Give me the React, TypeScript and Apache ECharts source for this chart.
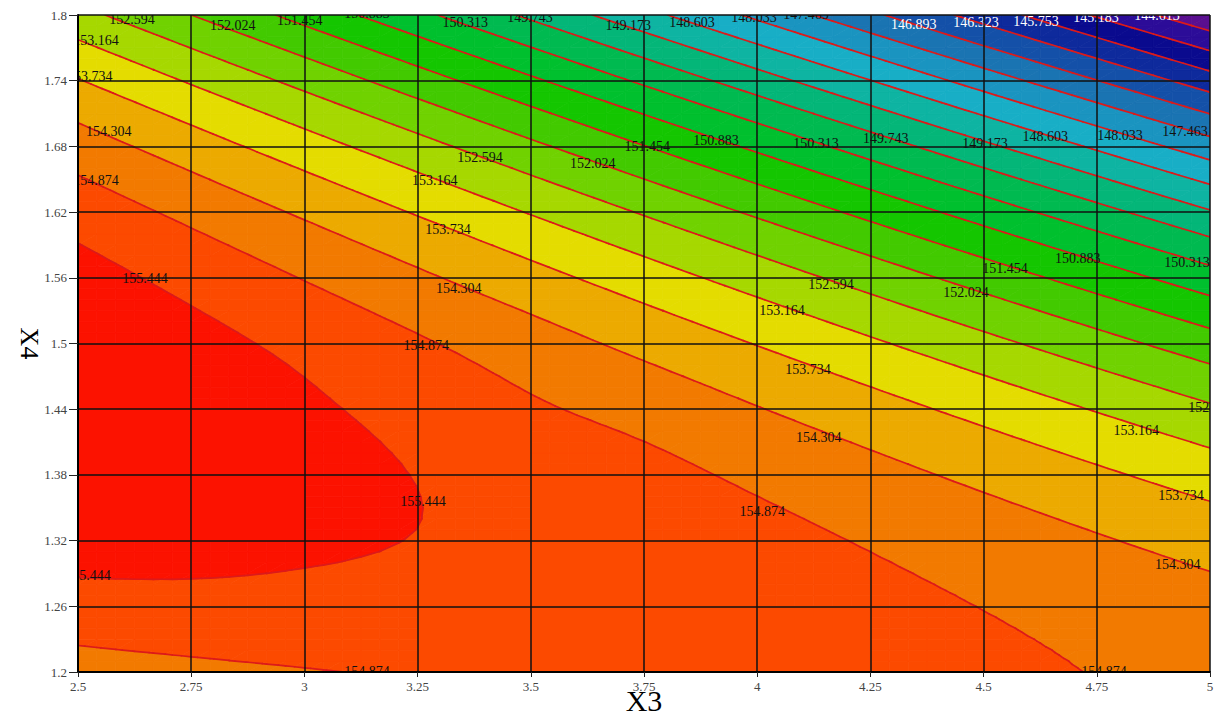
import { useEffect, useRef } from "react";
import * as echarts from "echarts";

// ---- axes ----
const x3Ticks = [2.5, 2.75, 3, 3.25, 3.5, 3.75, 4, 4.25, 4.5, 4.75, 5];
const x4Ticks = [1.2, 1.26, 1.32, 1.38, 1.44, 1.5, 1.56, 1.62, 1.68, 1.74, 1.8];

// ---- response values, one row per X4 tick (X3 = 2.5 ... 5) ----
const rowX4_120 = [154.600, 154.734, 154.843, 154.924, 154.980, 155.009, 155.013, 154.989, 154.940, 154.864, 154.763];
const rowX4_126 = [155.227, 155.273, 155.270, 155.250, 155.215, 155.197, 155.112, 155.001, 154.864, 154.700, 154.511];
const rowX4_132 = [155.674, 155.633, 155.535, 155.430, 155.311, 155.204, 155.032, 154.833, 154.608, 154.356, 154.079];
const rowX4_138 = [155.941, 155.812, 155.626, 155.430, 155.216, 155.032, 154.771, 154.485, 154.171, 153.832, 153.467];
const rowX4_144 = [156.028, 155.811, 155.537, 155.260, 154.952, 154.679, 154.331, 153.956, 153.555, 153.128, 152.675];
const rowX4_150 = [155.935, 155.630, 155.299, 154.941, 154.557, 154.147, 153.711, 153.248, 152.759, 152.244, 151.703];
const rowX4_156 = [155.662, 155.269, 154.850, 154.404, 153.932, 153.434, 152.910, 152.360, 151.783, 151.180, 150.551];
const rowX4_162 = [155.209, 154.728, 154.221, 153.688, 153.128, 152.542, 151.930, 151.291, 150.627, 149.936, 149.219];
const rowX4_168 = [154.576, 154.007, 153.412, 152.791, 152.143, 151.469, 150.769, 150.043, 149.290, 148.512, 147.707];
const rowX4_174 = [153.763, 153.106, 152.423, 151.714, 150.979, 150.217, 149.429, 148.615, 147.774, 146.908, 146.015];
const rowX4_180 = [152.770, 152.025, 151.255, 150.457, 149.634, 148.784, 147.909, 147.006, 146.078, 145.123, 144.143];
const zGrid = [rowX4_120, rowX4_126, rowX4_132, rowX4_138, rowX4_144, rowX4_150, rowX4_156, rowX4_162, rowX4_168, rowX4_174, rowX4_180];

// ---- contour levels and band colours (lowest band first) ----
const levels = [144.613, 145.183, 145.753, 146.323, 146.893, 147.463, 148.033, 148.603, 149.173, 149.743,
  150.313, 150.883, 151.454, 152.024, 152.594, 153.164, 153.734, 154.304, 154.874, 155.444];
const bandColors = ["#5a0f90", "#2c0c98", "#0a0a8e", "#0e2a9c", "#1450a8", "#1a74b2", "#1a94c0", "#18aec6",
  "#0eb4a2", "#04b678", "#00ba50", "#00c02e", "#14c600", "#42ca00", "#70d200", "#a6d800", "#e4dc00",
  "#ecaa00", "#f27a00", "#fc4a00", "#fc1200"];

// ---- contour labels ----
const labelText = [
  "152.594", "152.024", "151.454", "150.883", "150.313", "149.743", "149.173", "148.603", "148.033", "147.463", "146.893", "146.323", "145.753", "145.183", "144.613",
  "152.594", "152.024", "151.454", "150.883", "150.313", "149.743", "149.173", "148.603", "148.033", "147.463",
  "153.164", "153.734", "154.304", "154.874", "155.444", "155.444",
  "153.164", "153.734", "154.304", "154.874", "155.444", "154.874",
  "152.594", "153.164", "153.734", "154.304", "154.874", "151.454", "152.024", "150.883", "150.313", "152.594", "153.164", "153.734", "154.304", "154.874",
];
const labelX3 = [
  2.619, 2.842, 2.990, 3.138, 3.355, 3.498, 3.715, 3.856, 3.993, 4.108, 4.346, 4.483, 4.616, 4.748, 4.883,
  3.388, 3.637, 3.757, 3.909, 4.130, 4.284, 4.503, 4.636, 4.801, 4.945,
  2.540, 2.526, 2.568, 2.540, 2.648, 2.522,
  3.288, 3.317, 3.341, 3.269, 3.262, 3.138,
  4.163, 4.055, 4.112, 4.136, 4.011, 4.547, 4.461, 4.708, 4.949, 5.002, 4.837, 4.936, 4.929, 4.766,
];
const labelX4 = [
  1.7963, 1.790, 1.7954, 1.8018, 1.7927, 1.7973, 1.790, 1.7927, 1.7973, 1.8009, 1.7909, 1.7927, 1.7945, 1.7973, 1.7991,
  1.6703, 1.6648, 1.6795, 1.6858, 1.6822, 1.6868, 1.6831, 1.6886, 1.6904, 1.6932,
  1.7763, 1.7434, 1.6932, 1.6493, 1.5598, 1.2877,
  1.6493, 1.6037, 1.5498, 1.4986, 1.3553, 1.2009,
  1.5543, 1.5297, 1.4758, 1.4137, 1.3470, 1.5689, 1.5470, 1.5772, 1.5744, 1.4411, 1.4210, 1.3616, 1.2986, 1.2009,
];

const SUB = 6;
const FONT = '"Liberation Serif", "Times New Roman", serif';
const NI = x3Ticks.length - 1;
const NJ = x4Ticks.length - 1;

type V = { x: number; y: number; z: number };

// grid value with quadratic extrapolation one step beyond the edges
function zCol(ii: number, jj: number): number {
  if (ii < 0) return 3 * zCol(0, jj) - 3 * zCol(1, jj) + zCol(2, jj);
  if (ii > NI) return 3 * zCol(NI, jj) - 3 * zCol(NI - 1, jj) + zCol(NI - 2, jj);
  return zGrid[jj][ii];
}
function zExt(ii: number, jj: number): number {
  if (jj < 0) return 3 * zExt(ii, 0) - 3 * zExt(ii, 1) + zExt(ii, 2);
  if (jj > NJ) return 3 * zExt(ii, NJ) - 3 * zExt(ii, NJ - 1) + zExt(ii, NJ - 2);
  return zCol(ii, jj);
}
function cr(p0: number, p1: number, p2: number, p3: number, t: number) {
  return 0.5 * (2 * p1 + (-p0 + p2) * t + (2 * p0 - 5 * p1 + 4 * p2 - p3) * t * t + (-p0 + 3 * p1 - 3 * p2 + p3) * t * t * t);
}

function bandOf(z: number) {
  let k = 0;
  while (k < levels.length && z >= levels[k]) k++;
  return k;
}

function clip(poly: V[], t: number, above: boolean): V[] {
  const out: V[] = [];
  for (let n = 0; n < poly.length; n++) {
    const a = poly[n];
    const b = poly[(n + 1) % poly.length];
    const ina = above ? a.z >= t : a.z <= t;
    const inb = above ? b.z >= t : b.z <= t;
    if (ina) out.push(a);
    if (ina !== inb) {
      const f = (t - a.z) / (b.z - a.z);
      out.push({ x: a.x + f * (b.x - a.x), y: a.y + f * (b.y - a.y), z: t });
    }
  }
  return out;
}

function cellVerts(api: any, i: number, j: number): V[][] {
  const pA = api.coord([x3Ticks[i], x4Ticks[j]]);
  const pB = api.coord([x3Ticks[i + 1], x4Ticks[j + 1]]);
  const nb: number[][] = [];
  for (let r = -1; r <= 2; r++) {
    const row: number[] = [];
    for (let c = -1; c <= 2; c++) row.push(zExt(i + c, j + r));
    nb.push(row);
  }
  const g: V[][] = [];
  for (let b = 0; b <= SUB; b++) {
    const t = b / SUB;
    const row: V[] = [];
    for (let a = 0; a <= SUB; a++) {
      const s = a / SUB;
      const q = nb.map((r) => cr(r[0], r[1], r[2], r[3], s));
      const z = cr(q[0], q[1], q[2], q[3], t);
      row.push({ x: pA[0] + s * (pB[0] - pA[0]), y: pA[1] + t * (pB[1] - pA[1]), z });
    }
    g.push(row);
  }
  return g;
}

function poly(points: V[], color: string) {
  return {
    type: "polygon",
    silent: true,
    shape: { points: points.map((p) => [p.x, p.y]) },
    style: { fill: color, stroke: color, lineWidth: 0.8, lineJoin: "round" },
  };
}

function fillRender(_params: any, api: any) {
  const i = api.value(2), j = api.value(3);
  const g = cellVerts(api, i, j);
  const children: any[] = [];
  let mn = Infinity, mx = -Infinity;
  g.forEach((r) => r.forEach((v) => { mn = Math.min(mn, v.z); mx = Math.max(mx, v.z); }));
  if (bandOf(mn) === bandOf(mx)) {
    children.push(poly([g[0][0], g[0][SUB], g[SUB][SUB], g[SUB][0]], bandColors[bandOf(mn)]));
    return { type: "group", children };
  }
  for (let b = 0; b < SUB; b++) {
    for (let a = 0; a < SUB; a++) {
      const v00 = g[b][a], v10 = g[b][a + 1], v01 = g[b + 1][a], v11 = g[b + 1][a + 1];
      const zs = [v00.z, v10.z, v01.z, v11.z];
      const k0 = bandOf(Math.min(...zs)), k1 = bandOf(Math.max(...zs));
      if (k0 === k1) {
        children.push(poly([v00, v10, v11, v01], bandColors[k0]));
        continue;
      }
      for (const tri of [[v00, v10, v11], [v00, v11, v01]]) {
        const tz = tri.map((v) => v.z);
        const t0 = bandOf(Math.min(...tz)), t1 = bandOf(Math.max(...tz));
        if (t0 === t1) { children.push(poly(tri, bandColors[t0])); continue; }
        for (let k = t0; k <= t1; k++) {
          let p: V[] = tri;
          if (k > 0) p = clip(p, levels[k - 1], true);
          if (k < levels.length && p.length) p = clip(p, levels[k], false);
          if (p.length >= 3) children.push(poly(p, bandColors[k]));
        }
      }
    }
  }
  return { type: "group", children };
}

function lineRender(_params: any, api: any) {
  const i = api.value(2), j = api.value(3);
  const g = cellVerts(api, i, j);
  const children: any[] = [];
  for (let b = 0; b < SUB; b++) {
    for (let a = 0; a < SUB; a++) {
      const v00 = g[b][a], v10 = g[b][a + 1], v01 = g[b + 1][a], v11 = g[b + 1][a + 1];
      for (const tri of [[v00, v10, v11], [v00, v11, v01]]) {
        const tz = tri.map((v) => v.z);
        const lo = Math.min(...tz), hi = Math.max(...tz);
        for (const L of levels) {
          if (L <= lo || L >= hi) continue;
          const pts: number[][] = [];
          for (let e = 0; e < 3; e++) {
            const p = tri[e], q = tri[(e + 1) % 3];
            if ((p.z < L) !== (q.z < L)) {
              const f = (L - p.z) / (q.z - p.z);
              pts.push([p.x + f * (q.x - p.x), p.y + f * (q.y - p.y)]);
            }
          }
          if (pts.length === 2) {
            children.push({
              type: "line",
              silent: true,
              shape: { x1: pts[0][0], y1: pts[0][1], x2: pts[1][0], y2: pts[1][1] },
              style: { stroke: "#dc1a1a", lineWidth: 1.7, lineCap: "round" },
            });
          }
        }
      }
    }
  }
  return { type: "group", children };
}

function labelRender(_params: any, api: any) {
  const c = api.coord([api.value(0), api.value(1)]);
  const txt = labelText[api.value(2)];
  const fill = parseFloat(txt) < 147 ? "#ffffff" : "#111111";
  return {
    type: "text",
    silent: true,
    x: c[0],
    y: c[1],
    style: {
      text: txt,
      fill,
      font: `14px ${FONT}`,
      align: "center",
      verticalAlign: "middle",
      textAlign: "center",
      textVerticalAlign: "middle",
    },
  };
}

export default function App() {
  const ref = useRef<HTMLDivElement>(null);
  useEffect(() => {
    if (!ref.current) return;
    const chart = echarts.init(ref.current, undefined, { renderer: "svg" });
    const cells: number[][] = [];
    for (let j = 0; j < NJ; j++)
      for (let i = 0; i < NI; i++)
        cells.push([x3Ticks[i], x4Ticks[j], i, j]);
    const labels = labelText.map((_, k) => [labelX3[k], labelX4[k], k]);

    chart.setOption({
      animation: false,
      backgroundColor: "#ffffff",
      grid: { left: 78, right: 11, top: 15, bottom: 44, containLabel: false, outerBoundsMode: "none" },
      xAxis: {
        type: "value",
        min: 2.5,
        max: 5,
        interval: 0.25,
        z: 10,
        name: "X3",
        nameLocation: "middle",
        nameGap: 13,
        nameMoveOverlap: false,
        nameTextStyle: { fontFamily: FONT, fontSize: 30, color: "#000" },
        axisLine: { show: true, onZero: false, lineStyle: { color: "#000", width: 2 } },
        axisTick: { show: true, length: 5, lineStyle: { color: "#222", width: 1 } },
        axisLabel: { fontFamily: FONT, fontSize: 13, color: "#444", margin: 8 },
        splitLine: { show: true, lineStyle: { color: "#111", width: 1.5 } },
      },
      yAxis: {
        type: "value",
        min: 1.2,
        max: 1.8,
        interval: 0.06,
        z: 10,
        name: "X4",
        nameLocation: "middle",
        nameRotate: -90,
        nameGap: 36,
        nameMoveOverlap: false,
        nameTextStyle: { fontFamily: FONT, fontSize: 26, color: "#000" },
        axisLine: { show: true, onZero: false, lineStyle: { color: "#000", width: 2 } },
        axisTick: { show: true, length: 9, lineStyle: { color: "#222", width: 1 } },
        axisLabel: { fontFamily: FONT, fontSize: 13, color: "#444", margin: 11 },
        splitLine: { show: true, lineStyle: { color: "#111", width: 1.5 } },
      },
      series: [
        { type: "custom", name: "bands", z: 1, clip: true, data: cells, encode: { x: 0, y: 1 }, renderItem: fillRender },
        { type: "custom", name: "contours", z: 2, clip: true, data: cells, encode: { x: 0, y: 1 }, renderItem: lineRender },
        { type: "custom", name: "labels", z: 3, clip: true, data: labels, encode: { x: 0, y: 1 }, renderItem: labelRender },
      ],
    });
    return () => chart.dispose();
  }, []);
  return <div ref={ref} style={{ position: "fixed", left: 0, top: 0, width: 1221, height: 716 }} />;
}
